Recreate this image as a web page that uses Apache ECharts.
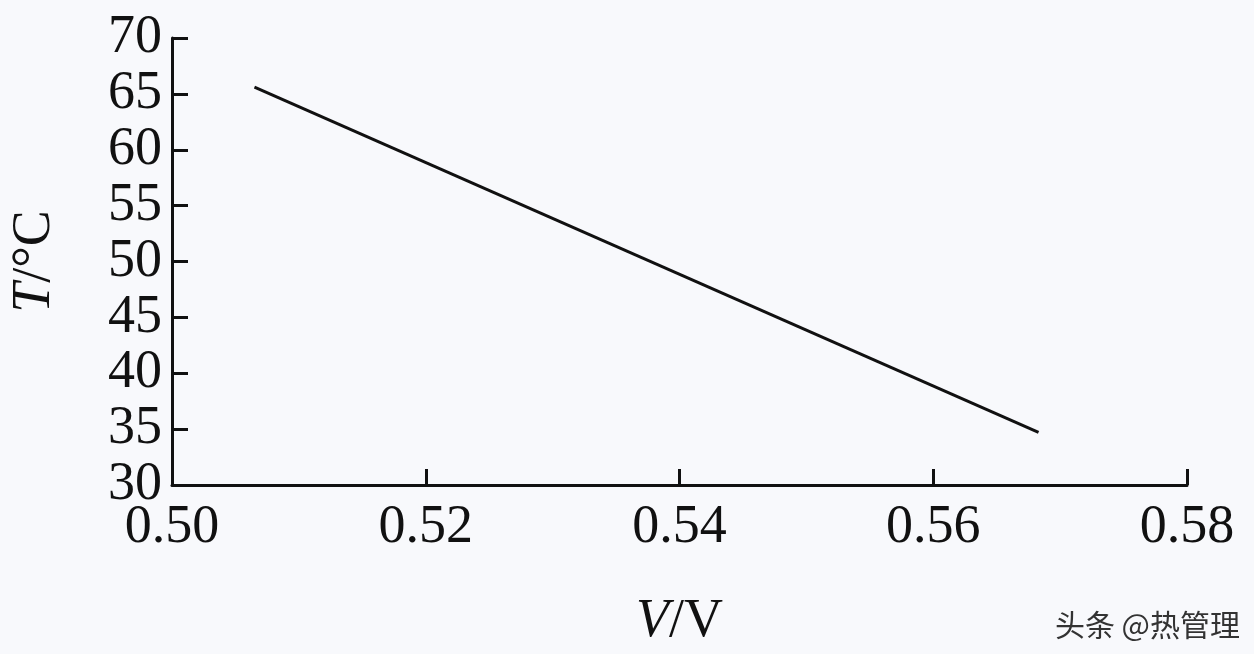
<!DOCTYPE html>
<html>
<head>
<meta charset="utf-8">
<script src="https://cdn.jsdelivr.net/npm/echarts@6/dist/echarts.min.js"></script>
<style>body{margin:0;background:#f8f9fc;}</style>
</head>
<body>
<div id="main" style="width:1254px;height:654px;"></div>
<script>
var voltage = [0.5065, 0.5683];
var temperature = [65.6, 34.7];
var xTicks = [0.50, 0.52, 0.54, 0.56, 0.58];
var yTicks = [30, 35, 40, 45, 50, 55, 60, 65, 70];

var chart = echarts.init(document.getElementById('main'));
var font = 'Liberation Serif';
chart.setOption({
    backgroundColor: '#f8f9fc',
    grid: { left: 157, right: 67, top: 38, bottom: 164 },
    xAxis: {
        type: 'value', min: 0.50, max: 0.58, interval: 0.02,
        axisLine: { lineStyle: { color: '#111', width: 3 } },
        axisTick: { inside: true, length: 16, lineStyle: { color: '#111', width: 3 } },
        splitLine: { show: false },
        axisLabel: { color: '#111', fontFamily: font, fontSize: 54, margin: 16,
            formatter: function (v) { return v.toFixed(2); } },
        name: '{i|V}/V', nameLocation: 'middle', nameGap: 110,
        nameTextStyle: { color: '#111', fontFamily: font, fontSize: 54,
            rich: { i: { fontStyle: 'italic', fontFamily: font, fontSize: 54, color: '#111' } } }
    },
    yAxis: {
        type: 'value', min: 30, max: 70, interval: 5,
        axisLine: { show: true, lineStyle: { color: '#111', width: 3 } },
        axisTick: { show: true, inside: true, length: 16, lineStyle: { color: '#111', width: 3 } },
        splitLine: { show: false },
        axisLabel: { color: '#111', fontFamily: font, fontSize: 54, margin: 10 },
        name: '{i|T}/°C', nameLocation: 'middle', nameGap: 110,
        nameTextStyle: { color: '#111', fontFamily: font, fontSize: 54,
            rich: { i: { fontStyle: 'italic', fontFamily: font, fontSize: 54, color: '#111' } } }
    },
    graphic: [{
        type: 'text', right: 14, bottom: 14,
        style: { text: '头条 @热管理', fill: '#333', font: '30px "Noto Sans CJK SC"' }
    }],
    series: [{
        type: 'line', symbol: 'none',
        data: voltage.map(function (v, i) { return [v, temperature[i]]; }),
        lineStyle: { color: '#111', width: 3 }
    }]
});
</script>
</body>
</html>
